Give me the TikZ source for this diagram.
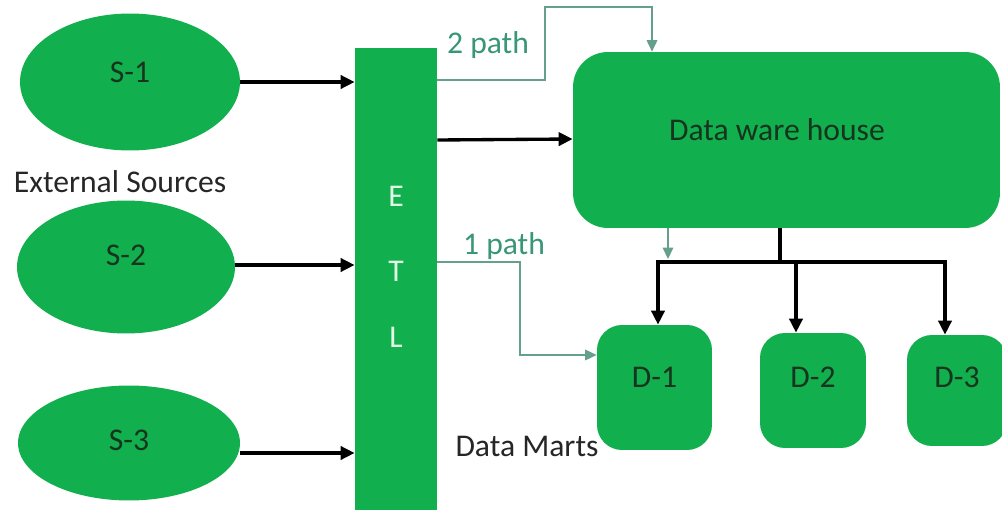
\documentclass[tikz,border=0pt]{standalone}
\usepackage{fontspec}
\setmainfont{Carlito}
\usetikzlibrary{arrows.meta,shapes.geometric}
\definecolor{gfill}{RGB}{18,175,78}
\definecolor{gtext}{RGB}{22,52,30}
\definecolor{tealtxt}{RGB}{58,150,120}
\definecolor{tealln}{RGB}{100,160,140}
\definecolor{etlw}{RGB}{225,250,230}
\tikzset{
  txt/.style={font=\fontsize{18}{20}\selectfont, text=gtext, inner sep=0pt},
  plain/.style={font=\fontsize{18}{20}\selectfont, text=black!85, inner sep=0pt},
  pathlbl/.style={font=\fontsize{18}{20}\selectfont, text=tealtxt, inner sep=0pt},
  etltxt/.style={font=\fontsize{18}{20}\selectfont, text=etlw, inner sep=0pt, anchor=center},
  src/.style={ellipse, fill=gfill, draw=none, inner sep=0pt},
  box/.style={rectangle, fill=gfill, draw=none, inner sep=0pt},
  arr/.style={draw=black, line width=1.9pt, -{Triangle[length=8pt,width=7.5pt]}},
  blk/.style={draw=black, line width=1.9pt},
  tarr/.style={draw=tealln, line width=0.8pt, -{Triangle[length=6.5pt,width=6pt]}, color=tealln},
}
\begin{document}
\begin{tikzpicture}[x=0.02cm,y=-0.02cm]
\useasboundingbox[fill=white] (0,0) rectangle (1002,510);

% sources
\node[src, minimum width=4.4cm, minimum height=2.74cm,
      label={[txt,anchor=center,yshift=0.2cm]center:S-1}] (s1) at (130,82) {};
\node[src, minimum width=4.36cm, minimum height=2.66cm,
      label={[txt,anchor=center,yshift=0.24cm]center:S-2}] (s2) at (126,267) {};
\node[src, minimum width=4.44cm, minimum height=2.3cm,
      label={[txt,anchor=center,yshift=0.06cm]center:S-3}] (s3) at (129,443) {};
\node[plain] (ext) at (120,182) {External Sources};

% ETL
\node[box, minimum width=1.64cm, minimum height=9.3cm,
      label={[etltxt,yshift=-2.98cm]north:E},
      label={[etltxt,yshift=-4.48cm]north:T},
      label={[etltxt,yshift=-5.8cm]north:L}] (etl) at (396,280.5) {};

% warehouse
\node[box, rounded corners=0.7cm, minimum width=8.54cm, minimum height=3.52cm,
      label={[txt,anchor=center,xshift=-0.19cm,yshift=0.2cm]center:Data ware house}] (dwh) at (786.5,140) {};

% data marts
\node[box, rounded corners=0.5cm, minimum width=2.3cm, minimum height=2.5cm,
      label={[txt,anchor=center,yshift=-1.06cm]north:D-1}] (d1) at (654.5,387.5) {};
\node[box, rounded corners=0.5cm, minimum width=2.12cm, minimum height=2.3cm,
      label={[txt,anchor=center,yshift=-0.9cm]north:D-2}] (d2) at (813,390.5) {};
\node[box, rounded corners=0.5cm, minimum width=2.0cm, minimum height=2.22cm,
      label={[txt,anchor=center,yshift=-0.86cm]north:D-3}] (d3) at (957,390.5) {};
\node[plain] (marts) at (527,446) {Data Marts};

% source arrows
\draw[arr] (s1.east) -- (etl.west |- s1.east);
\draw[arr] (s2.east |- 0,265) -- (etl.west |- 0,265);
\draw[arr] (s3.east |- 0,453) -- (etl.west |- 0,453);

% ETL -> warehouse
\draw[arr] (etl.east |- 0,140) -- (dwh.west |- 0,139);

% 2 path
\coordinate (p2a) at (545,80);
\coordinate (p2b) at (545,7);
\coordinate (p2c) at (652,7);
\draw[tarr] (etl.east |- p2a) -- (p2a) -- (p2b) -- (p2c) -- (dwh.north -| p2c);
\node[pathlbl] (lbl2) at (488,45) {2 path};

% 1 path
\coordinate (p1a) at (520,262);
\coordinate (p1b) at (520,355);
\draw[tarr] (etl.east |- p1a) -- (p1a) -- (p1b) -- (d1.west |- p1b);
\node[pathlbl] (lbl1) at (504,246) {1 path};

% warehouse -> marts
\coordinate (br) at (780,262);
\coordinate (hl) at (658,262);
\coordinate (hm) at (796,262);
\coordinate (hr) at (945,262);
\draw[blk] (dwh.south -| br) -- (br);
\draw[blk, line cap=rect] (hl) -- (hr);
\draw[arr] (hl) -- (d1.north -| hl);
\draw[arr] (hm) -- (d2.north -| hm);
\draw[arr] (hr) -- (d3.north -| hr);
\coordinate (tp) at (668,259);
\draw[tarr] (dwh.south -| tp) -- (tp);
\end{tikzpicture}
\end{document}
